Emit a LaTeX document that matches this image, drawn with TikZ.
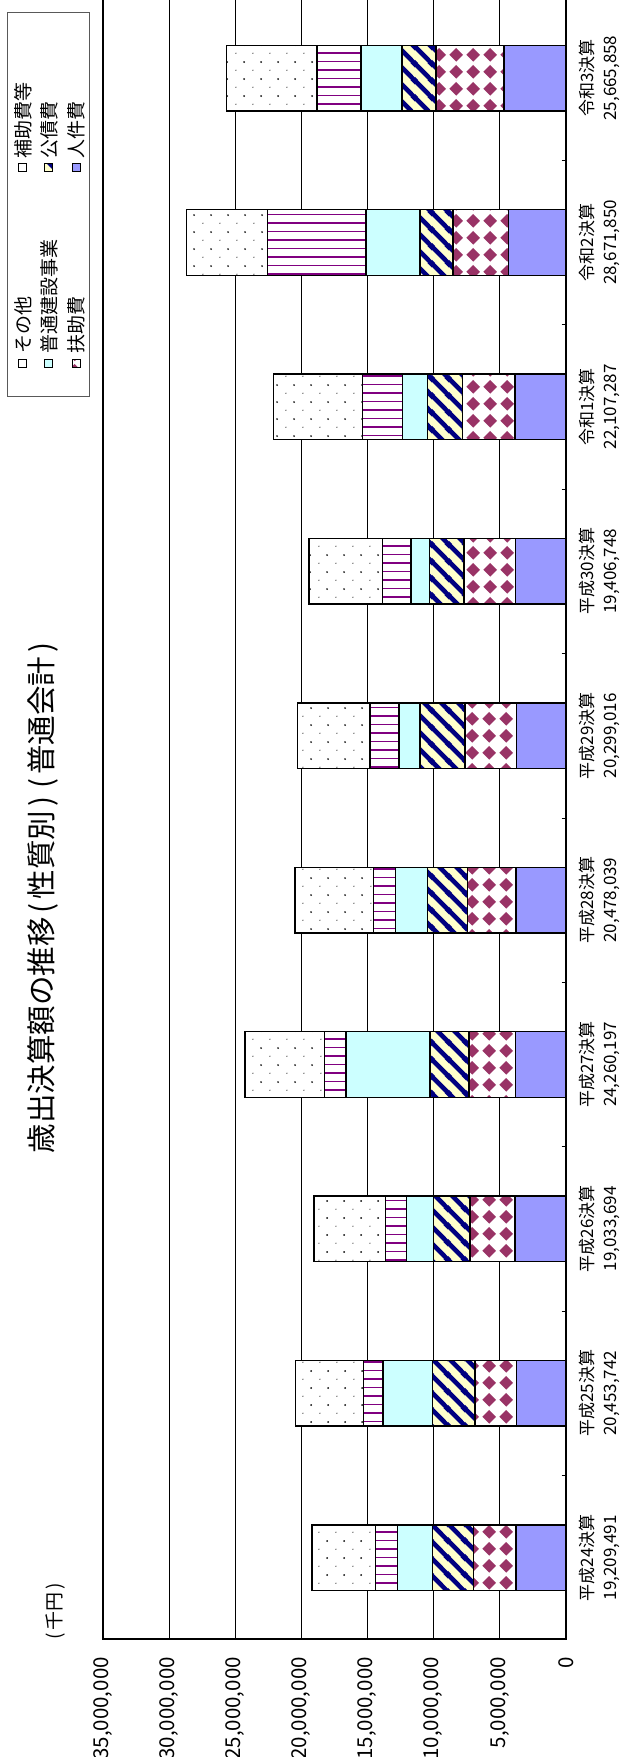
\documentclass[tikz,border=0pt]{standalone}
\usepackage{fontspec}
\setmainfont{Noto Sans CJK JP}
\usepackage{xcolor}
\usepackage{tikz}
\usetikzlibrary{patterns}

\definecolor{perblue}{HTML}{9999FF}
\definecolor{plum}{HTML}{993366}
\definecolor{navystripe}{HTML}{000080}
\definecolor{cream}{HTML}{FFFFCC}
\definecolor{paleaqua}{HTML}{CCFFFF}
\definecolor{grape}{HTML}{800080}

% fill patterns of the six kinds of spending
\pgfdeclarepatternformonly{confetti}{\pgfpointorigin}{\pgfpoint{16.6pt}{17pt}}{\pgfpoint{16.6pt}{17pt}}{%
  \pgfpathcircle{\pgfpoint{4pt}{4pt}}{0.6pt}%
  \pgfpathcircle{\pgfpoint{12.3pt}{12.5pt}}{1pt}%
  \pgfusepath{fill}}
\pgfdeclarepatternformonly{barlines}{\pgfpoint{-1pt}{0pt}}{\pgfpoint{34.2pt}{17pt}}{\pgfpoint{33.2pt}{17pt}}{%
  \pgfsetlinewidth{2.2pt}%
  \pgfpathmoveto{\pgfpoint{-1pt}{4pt}}\pgfpathlineto{\pgfpoint{34.2pt}{4pt}}\pgfusepath{stroke}%
  \pgfsetlinewidth{1.2pt}%
  \pgfpathmoveto{\pgfpoint{-1pt}{12.5pt}}\pgfpathlineto{\pgfpoint{34.2pt}{12.5pt}}\pgfusepath{stroke}}
\pgfdeclarepatternformonly{wdiag}{\pgfpointorigin}{\pgfpoint{16.6pt}{16.6pt}}{\pgfpoint{16.6pt}{16.6pt}}{%
  \pgfsetlinewidth{4.6pt}%
  \pgfpathmoveto{\pgfpoint{-2pt}{18.6pt}}\pgfpathlineto{\pgfpoint{18.6pt}{-2pt}}%
  \pgfpathmoveto{\pgfpoint{-4pt}{4pt}}\pgfpathlineto{\pgfpoint{4pt}{-4pt}}%
  \pgfpathmoveto{\pgfpoint{12.6pt}{20.6pt}}\pgfpathlineto{\pgfpoint{20.6pt}{12.6pt}}%
  \pgfusepath{stroke}}
\pgfdeclarepatternformonly{plaid}{\pgfpointorigin}{\pgfpoint{16.6pt}{16.6pt}}{\pgfpoint{16.6pt}{16.6pt}}{%
  \pgfpathmoveto{\pgfpoint{8.3pt}{1.4pt}}\pgfpathlineto{\pgfpoint{15.2pt}{8.3pt}}%
  \pgfpathlineto{\pgfpoint{8.3pt}{15.2pt}}\pgfpathlineto{\pgfpoint{1.4pt}{8.3pt}}\pgfpathclose
  \pgfusepath{fill}}

% one stacked bar: index, five running sums, total (million yen), label, amount
\newcommand{\stackbar}[9]{%
  \pgfmathsetmacro{\cy}{1557.7-164.4*#1}%
  \pgfmathsetmacro{\yt}{\cy-32.8}\pgfmathsetmacro{\yb}{\cy+32.8}%
  \pgfmathsetmacro{\xa}{565.7-13.22*#2}\pgfmathsetmacro{\xb}{565.7-13.22*#3}%
  \pgfmathsetmacro{\xc}{565.7-13.22*#4}\pgfmathsetmacro{\xd}{565.7-13.22*#5}%
  \pgfmathsetmacro{\xe}{565.7-13.22*#6}\pgfmathsetmacro{\xf}{565.7-13.22*#7}%
  \fill[personnel] (565.7,\yt) rectangle (\xa,\yb);
  \fill[welfare] (\xa,\yt) rectangle (\xb,\yb);
  \fill[debt] (\xb,\yt) rectangle (\xc,\yb);
  \fill[works] (\xc,\yt) rectangle (\xd,\yb);
  \fill[subsidy] (\xd,\yt) rectangle (\xe,\yb);
  \fill[misc] (\xe,\yt) rectangle (\xf,\yb);
  \draw[barline] (565.7,\yt) rectangle (\xf,\yb);
  \foreach \xx in {\xa,\xb,\xc,\xd,\xe}
    \draw[barline] (\xx,\yt) -- (\xx,\yb);
  \node[catlabel] (cat#1) at (587,\cy) {#8};
  \node[catlabel] (amt#1) at (612,\cy) {#9};
}

\begin{document}
\begin{tikzpicture}[x=1pt,y=-1pt,
    gridline/.style={black,line width=0.8pt},
    axisline/.style={black,line width=1.6pt},
    barline/.style={black,line width=1.5pt},
    personnel/.style={fill=perblue},
    welfare/.style={fill=white,postaction={pattern=plaid,pattern color=plum}},
    debt/.style={fill=cream,postaction={pattern=wdiag,pattern color=navystripe}},
    works/.style={fill=paleaqua},
    subsidy/.style={fill=white,postaction={pattern=barlines,pattern color=grape}},
    misc/.style={fill=white,postaction={pattern=confetti,pattern color=black}},
    catlabel/.style={rotate=90,inner sep=0pt,font=\fontsize{17}{17}\selectfont},
    vallabel/.style={rotate=90,anchor=east,inner sep=0pt,font=\fontsize{20.5}{21}\selectfont},
    legtext/.style={rotate=90,anchor=west,inner sep=0pt,font=\fontsize{19}{19}\selectfont},
    legkey/.style={draw=black,line width=0.8pt}]
  \useasboundingbox (0,0) rectangle (619,1757);

  % Title and unit
  \node[rotate=90,inner sep=0pt,font=\fontsize{29.5}{30}\selectfont] (title) at (43,898)
    {歳出決算額の推移\kern4pt(\kern4pt性質別\kern4pt)\kern8pt(\kern4pt普通会計\kern4pt)};
  \node[rotate=90,inner sep=0pt,font=\fontsize{19}{19}\selectfont] (unit) at (56,1611) {(\kern3pt千円\kern3pt)};

  % Grid lines and value labels
  \foreach \v in {5,10,...,30}
    \draw[gridline] ({565.7-13.22*\v},0) -- ({565.7-13.22*\v},1639);
  \foreach \v/\t in {0/0,5/{5,000,000},10/{10,000,000},15/{15,000,000},20/{20,000,000},25/{25,000,000},30/{30,000,000},35/{35,000,000}}
    \node[vallabel] (tick\v) at ({565.7-13.22*\v},1657) {\t};

  % Bars, from 平成24 up to 令和3
  \stackbar{0}{3.76}{6.99}{10.09}{12.74}{14.37}{19.209}{平成24決算}{19,209,491}
  \stackbar{1}{3.71}{6.85}{10.08}{13.81}{15.31}{20.454}{平成25決算}{20,453,742}
  \stackbar{2}{3.83}{7.24}{10.01}{12.03}{13.62}{19.034}{平成26決算}{19,033,694}
  \stackbar{3}{3.78}{7.31}{10.26}{16.62}{18.26}{24.260}{平成27決算}{24,260,197}
  \stackbar{4}{3.76}{7.41}{10.44}{12.86}{14.52}{20.478}{平成28決算}{20,478,039}
  \stackbar{5}{3.71}{7.62}{11.02}{12.61}{14.80}{20.299}{平成29決算}{20,299,016}
  \stackbar{6}{3.78}{7.69}{10.32}{11.70}{13.84}{19.407}{平成30決算}{19,406,748}
  \stackbar{7}{3.83}{7.82}{10.47}{12.36}{15.38}{22.107}{令和1決算}{22,107,287}
  \stackbar{8}{4.33}{8.51}{11.04}{15.11}{22.57}{28.672}{令和2決算}{28,671,850}
  \stackbar{9}{4.66}{9.80}{12.39}{15.47}{18.81}{25.666}{令和3決算}{25,665,858}

  % Axes and category ticks
  \draw[axisline] (103,0) -- (103,1639) -- (565.7,1639) -- (565.7,0);
  \foreach \k in {1,...,9}
    \draw[gridline] (561.5,{1639.9-164.4*\k}) -- (565.7,{1639.9-164.4*\k});

  % Legend
  \draw[black!65,line width=0.8pt] (7.3,12.3) rectangle (89.3,396.7);
  \fill[misc] (18.5,359) rectangle (26.5,367);
  \draw[legkey] (18.5,359) rectangle (26.5,367);
  \node[legtext] (legmisc) at (23,354) {その他};
  \fill[subsidy] (18.5,163) rectangle (26.5,171);
  \draw[legkey] (18.5,163) rectangle (26.5,171);
  \node[legtext] (legsubsidy) at (23,159) {補助費等};
  \fill[works] (44.5,359) rectangle (52.5,367);
  \draw[legkey] (44.5,359) rectangle (52.5,367);
  \node[legtext] (legworks) at (49,354) {普通建設事業};
  \fill[debt] (44.5,163) rectangle (52.5,171);
  \draw[legkey] (44.5,163) rectangle (52.5,171);
  \node[legtext] (legdebt) at (49,159) {公債費};
  \fill[welfare] (72,359) rectangle (80,367);
  \draw[legkey] (72,359) rectangle (80,367);
  \node[legtext] (legwelfare) at (76,354) {扶助費};
  \fill[personnel] (72,163) rectangle (80,171);
  \draw[legkey] (72,163) rectangle (80,171);
  \node[legtext] (legpersonnel) at (76,159) {人件費};
\end{tikzpicture}
\end{document}
